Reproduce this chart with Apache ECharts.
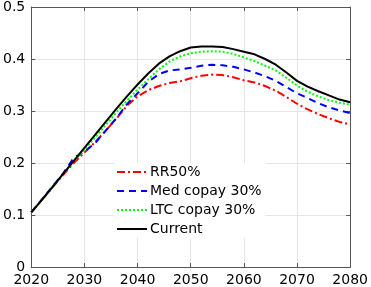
<!DOCTYPE html>
<html><head><meta charset="utf-8">
<script src="https://cdn.jsdelivr.net/npm/echarts@6/dist/echarts.min.js"></script>
<style>html,body{margin:0;padding:0;background:#fff}#c{width:371px;height:287px}</style>
</head><body><div id="c"></div>
<script>
var years = [2020,2022,2024,2026,2028,2030,2032,2034,2036,2038,2040,2042,2044,2046,2048,2050,2052,2054,2056,2058,2060,2062,2064,2066,2068,2070,2072,2074,2076,2078,2080];
var rr50 = [0.105,0.129,0.153,0.177,0.200,0.220,0.240,0.262,0.285,0.310,0.328,0.340,0.348,0.354,0.357,0.363,0.368,0.370,0.369,0.365,0.359,0.355,0.348,0.339,0.327,0.314,0.303,0.294,0.286,0.279,0.274];
var medCopay = [0.105,0.130,0.155,0.180,0.210,0.222,0.238,0.262,0.286,0.313,0.334,0.356,0.371,0.378,0.380,0.383,0.387,0.389,0.388,0.385,0.380,0.374,0.367,0.358,0.346,0.334,0.325,0.315,0.307,0.301,0.296];
var ltcCopay = [0.105,0.129,0.153,0.178,0.203,0.226,0.249,0.273,0.297,0.320,0.341,0.361,0.380,0.395,0.405,0.411,0.414,0.415,0.414,0.410,0.403,0.396,0.387,0.378,0.364,0.349,0.337,0.328,0.321,0.316,0.312];
var current = [0.105,0.129,0.154,0.179,0.204,0.229,0.254,0.279,0.304,0.328,0.351,0.372,0.391,0.405,0.415,0.422,0.424,0.424,0.423,0.419,0.414,0.409,0.400,0.389,0.374,0.358,0.347,0.338,0.330,0.322,0.317];
var seriesNames = ['RR50%','Med copay 30%','LTC copay 30%','Current'];

function pairs(v){ return years.map(function(y,i){ return [y, v[i]]; }); }
var FONT = 'DejaVu Sans';
var axisColor = '#555';
var chart = echarts.init(document.getElementById('c'));
var mk = function(name, vals, color, type){
  return {name:name, type:'line', data:pairs(vals), symbol:'none', showSymbol:false,
    lineStyle:{color:color, width:2, type:type}, itemStyle:{color:color}, z:3};
};
chart.setOption({
  animation:false,
  textStyle:{fontFamily:FONT},
  grid:{left:25,right:14,top:5,bottom:20,containLabel:false},
  legend:{
    orient:'vertical', left:114, top:163, itemWidth:30, itemHeight:14, itemGap:5,
    backgroundColor:'#fff', padding:[2,4,2,2],
    itemStyle:{opacity:0},
    textStyle:{fontFamily:FONT,fontSize:14,color:'#000',padding:[0,0,0,-2]},
    data:seriesNames
  },
  xAxis:[{
    type:'value', min:2020, max:2080, interval:10,
    axisLine:{show:true,onZero:false,lineStyle:{color:axisColor,width:1}},
    axisTick:{show:true,inside:true,length:4,lineStyle:{color:axisColor}},
    axisLabel:{fontFamily:FONT,fontSize:14,color:'#000',margin:6,formatter:function(v){return String(v);}},
    splitLine:{show:true,lineStyle:{color:'#e6e6e6',width:1}}
  },{
    type:'value', position:'top', min:2020, max:2080, interval:10,
    axisLine:{show:true,onZero:false,lineStyle:{color:axisColor,width:1}},
    axisTick:{show:true,inside:true,length:4,lineStyle:{color:axisColor}},
    axisLabel:{show:false}, splitLine:{show:false}
  }],
  yAxis:[{
    type:'value', min:0, max:0.5, interval:0.1,
    axisLine:{show:true,onZero:false,lineStyle:{color:axisColor,width:1}},
    axisTick:{show:true,inside:true,length:4,lineStyle:{color:axisColor}},
    axisLabel:{fontFamily:FONT,fontSize:14,color:'#000',margin:6},
    splitLine:{show:true,lineStyle:{color:'#e6e6e6',width:1}}
  },{
    type:'value', position:'right', min:0, max:0.5, interval:0.1,
    axisLine:{show:true,onZero:false,lineStyle:{color:axisColor,width:1}},
    axisTick:{show:true,inside:true,length:4,lineStyle:{color:axisColor}},
    axisLabel:{show:false}, splitLine:{show:false}
  }],
  series:[
    mk(seriesNames[0], rr50, '#ff0000', [8,3,2,3]),
    mk(seriesNames[1], medCopay, '#0000ff', [7,5]),
    mk(seriesNames[2], ltcCopay, '#00ff00', [2,2]),
    mk(seriesNames[3], current, '#000000', 'solid')
  ]
});
</script></body></html>
